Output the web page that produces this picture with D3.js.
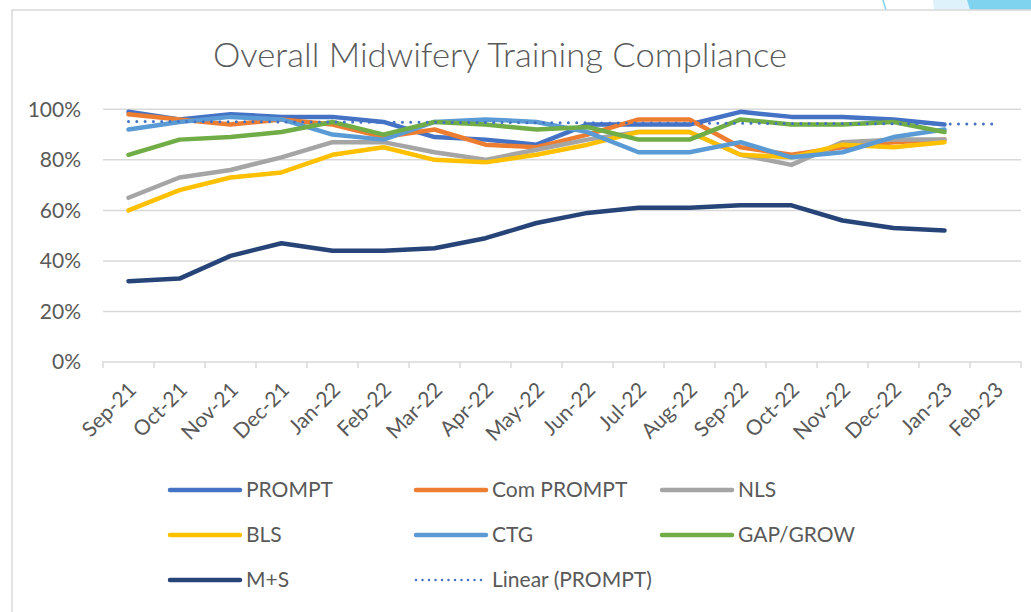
<!DOCTYPE html>
<html>
<head>
<meta charset="utf-8">
<script src="https://cdn.jsdelivr.net/npm/d3@7"></script>
<style>
  html, body { margin: 0; padding: 0; background: #fff; }
  svg { display: block; }
  text { font-family: Lato, "Open Sans", sans-serif; fill: #595959; }
</style>
</head>
<body>
<svg id="chart" width="1031" height="612"></svg>
<script>
// ---- data ----
const categories = ["Sep-21","Oct-21","Nov-21","Dec-21","Jan-22","Feb-22","Mar-22","Apr-22","May-22","Jun-22","Jul-22","Aug-22","Sep-22","Oct-22","Nov-22","Dec-22","Jan-23","Feb-23"];
const yTicks = [0, 20, 40, 60, 80, 100];
const seriesNames = ["PROMPT","Com PROMPT","NLS","BLS","CTG","GAP/GROW","M+S"];
const promptVals    = [99,96,98,97,97,95,89,88,86,94,94,94,99,97,97,96,94];
const comPromptVals = [98,96,94,96,94,89,92,86,85,90,96,96,85,82,85,87,88];
const nlsVals       = [65,73,76,81,87,87,83,80,84,88,91,91,82,78,87,88,88];
const blsVals       = [60,68,73,75,82,85,80,79,82,86,91,91,82,81,86,85,87];
const ctgVals       = [92,95,97,96,90,88,95,96,95,91,83,83,87,81,83,89,92];
const gapGrowVals   = [82,88,89,91,95,90,95,94,92,93,88,88,96,94,94,95,91];
const msVals        = [32,33,42,47,44,44,45,49,55,59,61,61,62,62,56,53,52];
const trendName = "Linear (PROMPT)";

const colors = ["#4472C4","#ED7D31","#A5A5A5","#FFC000","#5B9BD5","#70AD47","#264478"];
const allVals = [promptVals, comPromptVals, nlsVals, blsVals, ctgVals, gapGrowVals, msVals];
const series = seriesNames.map((n, i) => ({ name: n, values: allVals[i], color: colors[i] }));

// ---- layout ----
const svg = d3.select("#chart");
const plot = { left: 103, right: 1021, top: 109.3, bottom: 362 };

// chart frame + decoration
svg.append("path").attr("d", "M883,0 L886,10").attr("stroke", "#7FD3EE").attr("stroke-width", 1.5);
svg.append("path").attr("d", "M933,0 L967,0 L970,10 L934,10 Z").attr("fill", "#DDF2FA");
svg.append("path").attr("d", "M967,0 L1031,0 L1031,10 L970,10 Z").attr("fill", "#7FD3EE");
svg.append("rect").attr("x", 12).attr("y", 10).attr("width", 1040).attr("height", 640)
  .attr("fill", "#fff").attr("stroke", "#D9D9D9").attr("stroke-width", 1.5);

// title
svg.append("text").attr("x", 500).attr("y", 67).attr("text-anchor", "middle")
  .attr("font-size", 33).attr("font-weight", 300)
  .attr("textLength", 574).attr("lengthAdjust", "spacingAndGlyphs")
  .text("Overall Midwifery Training Compliance");

// scales
const x = d3.scaleBand().domain(categories).range([plot.left, plot.right]).padding(0);
const cx = c => x(c) + x.bandwidth() / 2;
const y = d3.scaleLinear().domain([0, 100]).range([plot.bottom, plot.top]);

// gridlines
svg.append("g").selectAll("line").data(yTicks.filter(t => t > 0)).join("line")
  .attr("x1", plot.left).attr("x2", plot.right)
  .attr("y1", d => y(d)).attr("y2", d => y(d))
  .attr("stroke", "#D9D9D9").attr("stroke-width", 1.5);

// y axis labels
const yAxis = d3.axisLeft(y).tickValues(yTicks).tickSize(0).tickPadding(22).tickFormat(d => d + "%");
const gy = svg.append("g").attr("transform", `translate(${plot.left},0)`).call(yAxis);
gy.select(".domain").remove();
gy.selectAll("text").attr("font-size", 21).attr("fill", "#595959").style("font-family", "Lato");

// x axis
const xAxis = d3.axisBottom(x).tickSize(0).tickFormat(d => d);
const gx = svg.append("g").attr("transform", `translate(0,${plot.bottom})`).call(xAxis);
gx.select(".domain").attr("stroke", "#D9D9D9").attr("stroke-width", 1.5)
  .attr("d", `M${plot.left},6V0H${plot.right}V6`);
gx.selectAll(".tick text")
  .attr("font-size", 21).attr("fill", "#595959").style("font-family", "Lato")
  .attr("text-anchor", "end")
  .attr("x", 0).attr("y", 0).attr("dy", "0.35em")
  .attr("transform", "translate(4,24) rotate(-45)");
// category boundary tick marks
svg.append("g").selectAll("line").data(categories.slice(1)).join("line")
  .attr("x1", d => x(d)).attr("x2", d => x(d))
  .attr("y1", plot.bottom).attr("y2", plot.bottom + 6)
  .attr("stroke", "#D9D9D9").attr("stroke-width", 1.5);

// lines
const line = d3.line().x((d, i) => cx(categories[i])).y(d => y(d));
svg.append("g").selectAll("path").data(series).join("path")
  .attr("d", d => line(d.values))
  .attr("fill", "none").attr("stroke", d => d.color)
  .attr("stroke-width", 4.5).attr("stroke-linecap", "round").attr("stroke-linejoin", "round");

// linear trendline of PROMPT (least squares), forecast one period forward
const n = promptVals.length;
const mx = d3.mean(d3.range(n)), my = d3.mean(promptVals);
const slope = d3.sum(promptVals, (v, i) => (i - mx) * (v - my)) / d3.sum(d3.range(n), i => (i - mx) * (i - mx));
const icpt = my - slope * mx;
const trendIdx = [0, categories.length - 1];
svg.append("path")
  .attr("d", d3.line().x(i => cx(categories[i])).y(i => y(icpt + slope * i))(trendIdx))
  .attr("fill", "none").attr("stroke", "#4472C4").attr("stroke-width", 3)
  .attr("stroke-dasharray", "0 8.3").attr("stroke-linecap", "round");

// legend
const legendItems = series.map(s => ({ name: s.name, color: s.color, dotted: false }))
  .concat([{ name: trendName, color: "#4472C4", dotted: true }]);
const colX = [170, 416, 662], rowY = [490, 535, 580];
const lg = svg.append("g").selectAll("g").data(legendItems).join("g")
  .attr("transform", (d, i) => `translate(${colX[i % 3]},${rowY[Math.floor(i / 3)]})`);
lg.append("line").attr("x1", 0).attr("x2", 70).attr("y1", 0).attr("y2", 0)
  .attr("stroke", d => d.color)
  .attr("stroke-width", d => d.dotted ? 2.5 : 4.5)
  .attr("stroke-linecap", "round")
  .attr("stroke-dasharray", d => d.dotted ? "0 6.5" : null);
lg.append("text").attr("x", 76).attr("y", 0).attr("dy", "0.35em")
  .attr("font-size", 21).text(d => d.name);
</script>
</body>
</html>
